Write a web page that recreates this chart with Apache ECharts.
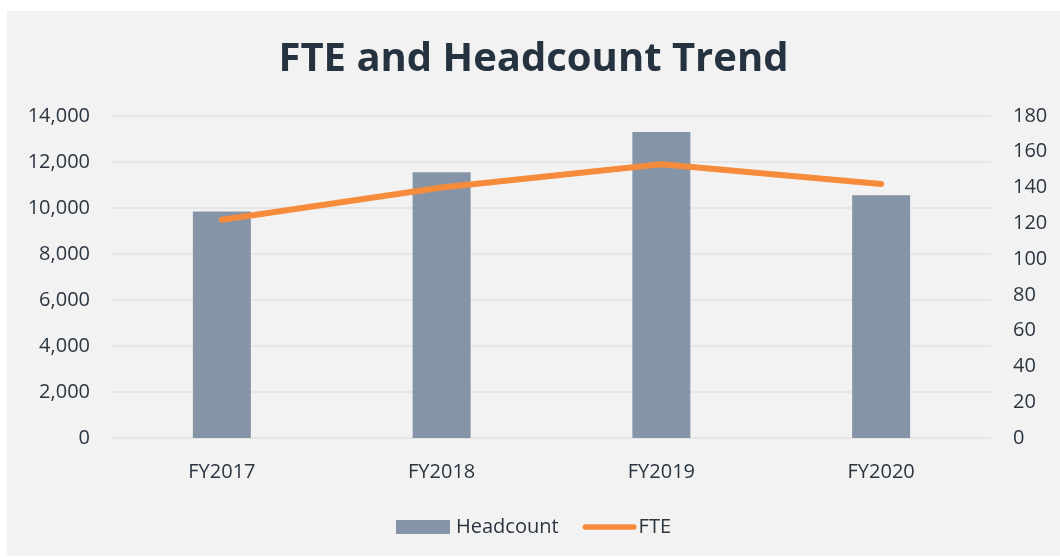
<!DOCTYPE html>
<html><head><meta charset="utf-8">
<script src="https://cdn.jsdelivr.net/npm/echarts@6/dist/echarts.min.js"></script>
<style>
html,body{margin:0;padding:0;background:#ffffff;}
#c{position:absolute;left:7px;top:11px;width:1053px;height:545px;background:#f2f2f2;}
</style></head>
<body><div id="c"></div>
<script>
const categories = ['FY2017', 'FY2018', 'FY2019', 'FY2020'];
const headcount = [9850, 11550, 13300, 10550];
const fte = [122, 140, 153, 142];
const leftTicks = [0, 14000, 2000];
const rightTicks = [0, 180, 20];

const textColor = '#2b3540';
const font = 'Open Sans';
const chart = echarts.init(document.getElementById('c'), null, {renderer: 'canvas'});
chart.setOption({
  backgroundColor: '#f2f2f2',
  animation: false,
  title: {
    text: 'FTE and Headcount Trend',
    left: 'center', top: 24,
    textStyle: {fontFamily: font, fontSize: 40, fontWeight: 'bold', color: '#253340'}
  },
  legend: {
    bottom: 14, left: 'center',
    itemWidth: 54, itemHeight: 14, itemGap: 24,
    textStyle: {fontFamily: font, fontSize: 20, color: textColor, padding: [0, 0, 0, 1]},
    data: [
      {name: 'Headcount', icon: 'rect'},
      {name: 'FTE', icon: 'path://M3,0 L57,0 A3,3 0 0 1 57,6 L3,6 A3,3 0 0 1 3,0 Z',
       textStyle: {padding: [0, 0, 0, -3]}}
    ]
  },
  grid: {left: 105, right: 69, top: 105, bottom: 118},
  xAxis: {
    type: 'category', data: categories,
    axisLine: {show: false}, axisTick: {show: false},
    axisLabel: {fontFamily: font, fontSize: 20, color: textColor, margin: 24}
  },
  yAxis: [
    {
      type: 'value', min: leftTicks[0], max: leftTicks[1], interval: leftTicks[2],
      axisLine: {show: false}, axisTick: {show: false},
      axisLabel: {fontFamily: font, fontSize: 20, color: textColor, margin: 22,
        formatter: v => v.toLocaleString('en-US')},
      splitLine: {lineStyle: {color: '#e2e2e2', width: 1.5}}
    },
    {
      type: 'value', min: rightTicks[0], max: rightTicks[1], interval: rightTicks[2],
      axisLine: {show: false}, axisTick: {show: false},
      axisLabel: {fontFamily: font, fontSize: 20, color: textColor, margin: 22},
      splitLine: {show: false}
    }
  ],
  series: [
    {
      name: 'Headcount', type: 'bar', data: headcount, barWidth: 58,
      itemStyle: {color: '#8595a7'}
    },
    {
      name: 'FTE', type: 'line', yAxisIndex: 1, data: fte,
      symbol: 'none', showSymbol: false,
      lineStyle: {color: '#f68b3b', width: 6, cap: 'round', join: 'round'},
      itemStyle: {color: '#f68b3b'}
    }
  ]
});
</script></body></html>
